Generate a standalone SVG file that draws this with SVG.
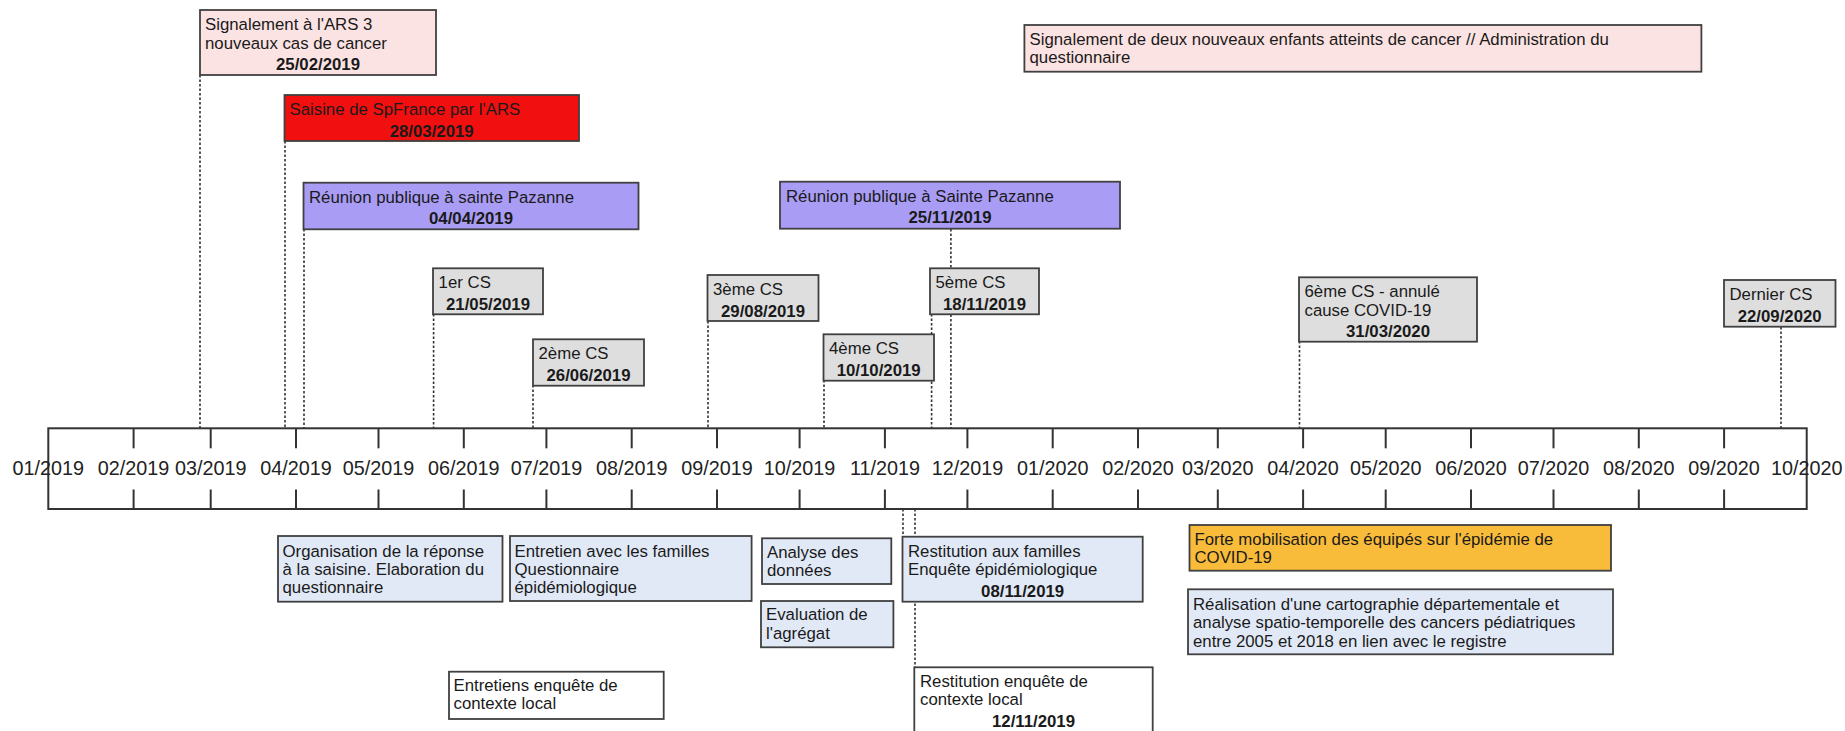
<svg xmlns="http://www.w3.org/2000/svg" width="1845" height="731" viewBox="0 0 1845 731">
<style>
  text { font-family: "Liberation Sans", Arial, sans-serif; font-size: 16.8px; fill: #1a1a1a; }
  .d { font-weight: bold; text-anchor: middle; }
  .ax { font-size: 19.8px; text-anchor: middle; fill: #222; }
  .box { stroke: #404040; stroke-width: 1.8; }
  .pink { fill: #FCE3E3; }
  .red { fill: #F20F0F; }
  .purple { fill: #A99CF4; }
  .gray { fill: #DEDEDE; }
  .blue { fill: #E1E9F7; }
  .orange { fill: #F8BC3A; }
  .white { fill: #FFFFFF; }
  .dot { stroke: #333; stroke-width: 1.6; stroke-dasharray: 2.5 2; fill: none; }
  .tick { stroke: #333; stroke-width: 2; }
</style>
<rect width="1845" height="731" fill="#FFFFFF"/>

<g id="connectors">
  <line class="dot" x1="200" y1="75" x2="200" y2="428"/>
  <line class="dot" x1="285" y1="141" x2="285" y2="428"/>
  <line class="dot" x1="304" y1="229" x2="304" y2="428"/>
  <line class="dot" x1="433.6" y1="314" x2="433.6" y2="428"/>
  <line class="dot" x1="533" y1="385" x2="533" y2="428"/>
  <line class="dot" x1="708" y1="321" x2="708" y2="428"/>
  <line class="dot" x1="824" y1="380" x2="824" y2="428"/>
  <line class="dot" x1="931.6" y1="314" x2="931.6" y2="428"/>
  <line class="dot" x1="950.9" y1="229" x2="950.9" y2="428"/>
  <line class="dot" x1="1299.5" y1="341" x2="1299.5" y2="428"/>
  <line class="dot" x1="1781" y1="327" x2="1781" y2="428"/>
  <line class="dot" x1="903" y1="509" x2="903" y2="537"/>
  <line class="dot" x1="915" y1="509" x2="915" y2="667"/>
</g>

<g id="axis">
  <rect x="48.3" y="428.3" width="1758.4" height="80.7" fill="none" stroke="#333" stroke-width="2"/>
  <g class="tick">
    <line x1="133.6" y1="428.3" x2="133.6" y2="448.3"/><line x1="133.6" y1="489.5" x2="133.6" y2="509"/>
    <line x1="210.7" y1="428.3" x2="210.7" y2="448.3"/><line x1="210.7" y1="489.5" x2="210.7" y2="509"/>
    <line x1="296" y1="428.3" x2="296" y2="448.3"/><line x1="296" y1="489.5" x2="296" y2="509"/>
    <line x1="378.5" y1="428.3" x2="378.5" y2="448.3"/><line x1="378.5" y1="489.5" x2="378.5" y2="509"/>
    <line x1="463.8" y1="428.3" x2="463.8" y2="448.3"/><line x1="463.8" y1="489.5" x2="463.8" y2="509"/>
    <line x1="546.4" y1="428.3" x2="546.4" y2="448.3"/><line x1="546.4" y1="489.5" x2="546.4" y2="509"/>
    <line x1="631.7" y1="428.3" x2="631.7" y2="448.3"/><line x1="631.7" y1="489.5" x2="631.7" y2="509"/>
    <line x1="717" y1="428.3" x2="717" y2="448.3"/><line x1="717" y1="489.5" x2="717" y2="509"/>
    <line x1="799.6" y1="428.3" x2="799.6" y2="448.3"/><line x1="799.6" y1="489.5" x2="799.6" y2="509"/>
    <line x1="884.9" y1="428.3" x2="884.9" y2="448.3"/><line x1="884.9" y1="489.5" x2="884.9" y2="509"/>
    <line x1="967.4" y1="428.3" x2="967.4" y2="448.3"/><line x1="967.4" y1="489.5" x2="967.4" y2="509"/>
    <line x1="1052.7" y1="428.3" x2="1052.7" y2="448.3"/><line x1="1052.7" y1="489.5" x2="1052.7" y2="509"/>
    <line x1="1138" y1="428.3" x2="1138" y2="448.3"/><line x1="1138" y1="489.5" x2="1138" y2="509"/>
    <line x1="1217.8" y1="428.3" x2="1217.8" y2="448.3"/><line x1="1217.8" y1="489.5" x2="1217.8" y2="509"/>
    <line x1="1303.1" y1="428.3" x2="1303.1" y2="448.3"/><line x1="1303.1" y1="489.5" x2="1303.1" y2="509"/>
    <line x1="1385.7" y1="428.3" x2="1385.7" y2="448.3"/><line x1="1385.7" y1="489.5" x2="1385.7" y2="509"/>
    <line x1="1471" y1="428.3" x2="1471" y2="448.3"/><line x1="1471" y1="489.5" x2="1471" y2="509"/>
    <line x1="1553.5" y1="428.3" x2="1553.5" y2="448.3"/><line x1="1553.5" y1="489.5" x2="1553.5" y2="509"/>
    <line x1="1638.8" y1="428.3" x2="1638.8" y2="448.3"/><line x1="1638.8" y1="489.5" x2="1638.8" y2="509"/>
    <line x1="1724.1" y1="428.3" x2="1724.1" y2="448.3"/><line x1="1724.1" y1="489.5" x2="1724.1" y2="509"/>
  </g>
  <text class="ax" x="48.3" y="475">01/2019</text>
  <text class="ax" x="133.6" y="475">02/2019</text>
  <text class="ax" x="210.7" y="475">03/2019</text>
  <text class="ax" x="296" y="475">04/2019</text>
  <text class="ax" x="378.5" y="475">05/2019</text>
  <text class="ax" x="463.8" y="475">06/2019</text>
  <text class="ax" x="546.4" y="475">07/2019</text>
  <text class="ax" x="631.7" y="475">08/2019</text>
  <text class="ax" x="717" y="475">09/2019</text>
  <text class="ax" x="799.6" y="475">10/2019</text>
  <text class="ax" x="884.9" y="475">11/2019</text>
  <text class="ax" x="967.4" y="475">12/2019</text>
  <text class="ax" x="1052.7" y="475">01/2020</text>
  <text class="ax" x="1138" y="475">02/2020</text>
  <text class="ax" x="1217.8" y="475">03/2020</text>
  <text class="ax" x="1303.1" y="475">04/2020</text>
  <text class="ax" x="1385.7" y="475">05/2020</text>
  <text class="ax" x="1471" y="475">06/2020</text>
  <text class="ax" x="1553.5" y="475">07/2020</text>
  <text class="ax" x="1638.8" y="475">08/2020</text>
  <text class="ax" x="1724.1" y="475">09/2020</text>
  <text class="ax" x="1806.7" y="475">10/2020</text>
</g>

<g id="n-signalement-ars">
  <rect class="box pink" x="200" y="10" width="236" height="65"/>
  <text x="205" y="30">Signalement à l'ARS 3</text>
  <text x="205" y="48.5">nouveaux cas de cancer</text>
  <text class="d" x="318" y="70">25/02/2019</text>
</g>
<g id="n-saisine">
  <rect class="box red" x="284.5" y="95" width="294.5" height="46"/>
  <text x="289.5" y="115">Saisine de SpFrance par l'ARS</text>
  <text class="d" x="431.7" y="136.7">28/03/2019</text>
</g>
<g id="n-reunion-1">
  <rect class="box purple" x="303.5" y="182.7" width="335" height="46.6"/>
  <text x="309" y="202.7">Réunion publique à sainte Pazanne</text>
  <text class="d" x="471" y="224.3">04/04/2019</text>
</g>
<g id="n-signalement-enfants">
  <rect class="box pink" x="1024.4" y="25" width="677" height="46.7"/>
  <text x="1029.5" y="45">Signalement de deux nouveaux enfants atteints de cancer // Administration du</text>
  <text x="1029.5" y="63.3">questionnaire</text>
</g>
<g id="n-reunion-2">
  <rect class="box purple" x="780" y="181.7" width="340" height="47"/>
  <text x="786" y="201.7">Réunion publique à Sainte Pazanne</text>
  <text class="d" x="950" y="223.4">25/11/2019</text>
</g>
<g id="n-cs1">
  <rect class="box gray" x="433" y="268.3" width="110" height="46"/>
  <text x="438.6" y="288.3">1er CS</text>
  <text class="d" x="488" y="310">21/05/2019</text>
</g>
<g id="n-cs2">
  <rect class="box gray" x="533" y="339.3" width="111" height="46.4"/>
  <text x="538.5" y="359.3">2ème CS</text>
  <text class="d" x="588.5" y="381">26/06/2019</text>
</g>
<g id="n-cs3">
  <rect class="box gray" x="707.5" y="275" width="111" height="46"/>
  <text x="713" y="295">3ème CS</text>
  <text class="d" x="763" y="316.7">29/08/2019</text>
</g>
<g id="n-cs4">
  <rect class="box gray" x="823.5" y="334.3" width="110.5" height="46.4"/>
  <text x="829" y="354.3">4ème CS</text>
  <text class="d" x="878.7" y="376">10/10/2019</text>
</g>
<g id="n-cs5">
  <rect class="box gray" x="930" y="268.3" width="109" height="46"/>
  <text x="935.5" y="288.3">5ème CS</text>
  <text class="d" x="984.5" y="310">18/11/2019</text>
</g>
<g id="n-cs6">
  <rect class="box gray" x="1299" y="277.3" width="178" height="64.4"/>
  <text x="1304.5" y="297.3">6ème CS - annulé</text>
  <text x="1304.5" y="315.7">cause COVID-19</text>
  <text class="d" x="1388" y="337.3">31/03/2020</text>
</g>
<g id="n-cs-dernier">
  <rect class="box gray" x="1724" y="280" width="111.5" height="46.7"/>
  <text x="1729.5" y="300">Dernier CS</text>
  <text class="d" x="1779.7" y="321.7">22/09/2020</text>
</g>

<g id="n-organisation">
  <rect class="box blue" x="278" y="536" width="224.5" height="65.7"/>
  <text x="282.5" y="556.5">Organisation de la réponse</text>
  <text x="282.5" y="575">à la saisine. Elaboration du</text>
  <text x="282.5" y="593.3">questionnaire</text>
</g>
<g id="n-entretien-familles">
  <rect class="box blue" x="510" y="536" width="241.6" height="65"/>
  <text x="514.5" y="556.5">Entretien avec les familles</text>
  <text x="514.5" y="575">Questionnaire</text>
  <text x="514.5" y="593.3">épidémiologique</text>
</g>
<g id="n-analyse">
  <rect class="box blue" x="762" y="538.3" width="129.3" height="45.7"/>
  <text x="767" y="557.5">Analyse des</text>
  <text x="767" y="576">données</text>
</g>
<g id="n-evaluation">
  <rect class="box blue" x="761" y="601" width="132.4" height="46.3"/>
  <text x="766" y="620">Evaluation de</text>
  <text x="766" y="638.5">l'agrégat</text>
</g>
<g id="n-restitution-familles">
  <rect class="box blue" x="902.5" y="536.7" width="240.2" height="65"/>
  <text x="908" y="556.7">Restitution aux familles</text>
  <text x="908" y="575">Enquête épidémiologique</text>
  <text class="d" x="1022.6" y="596.7">08/11/2019</text>
</g>
<g id="n-entretiens-contexte">
  <rect class="box white" x="449" y="671.7" width="214.7" height="47.3"/>
  <text x="453.5" y="690.5">Entretiens enquête de</text>
  <text x="453.5" y="709">contexte local</text>
</g>
<g id="n-restitution-contexte">
  <rect class="box white" x="914.3" y="667.3" width="238.4" height="70"/>
  <text x="920" y="686.7">Restitution enquête de</text>
  <text x="920" y="705">contexte local</text>
  <text class="d" x="1033.5" y="726.7">12/11/2019</text>
</g>
<g id="n-forte-mobilisation">
  <rect class="box orange" x="1189.5" y="525" width="421.5" height="45.7"/>
  <text x="1194.5" y="545">Forte mobilisation des équipés sur l'épidémie de</text>
  <text x="1194.5" y="563.3">COVID-19</text>
</g>
<g id="n-realisation">
  <rect class="box blue" x="1188" y="589.3" width="425" height="65"/>
  <text x="1193" y="610">Réalisation d'une cartographie départementale et</text>
  <text x="1193" y="628.3">analyse spatio-temporelle des cancers pédiatriques</text>
  <text x="1193" y="646.6">entre 2005 et 2018 en lien avec le registre</text>
</g>
</svg>
